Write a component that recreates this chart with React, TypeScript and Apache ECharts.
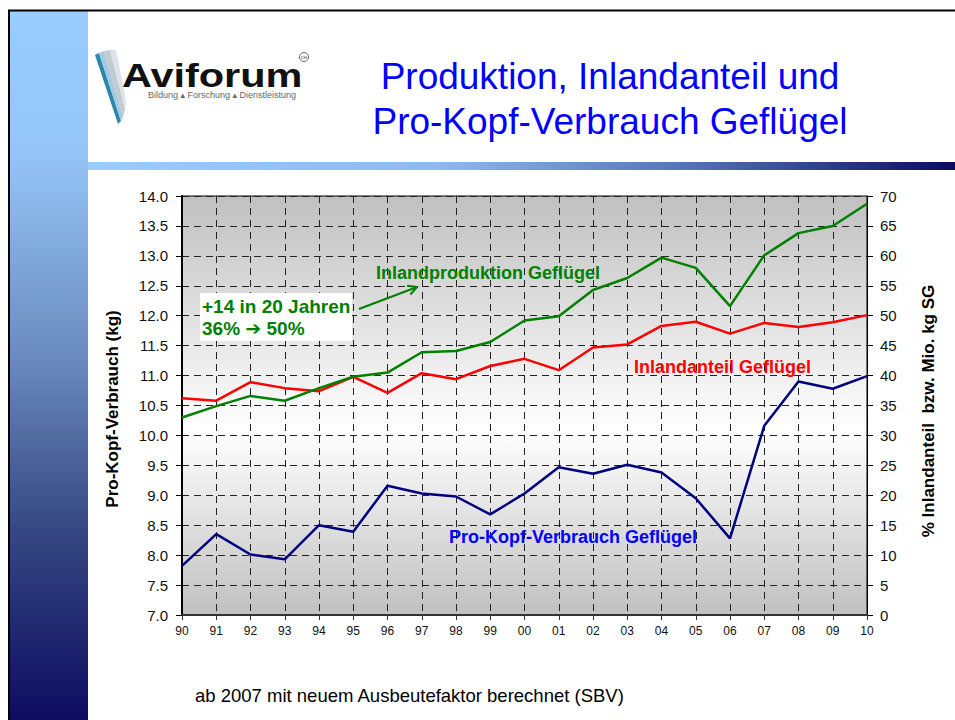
import React, { useEffect, useRef } from "react";
import * as echarts from "echarts";

const years = ["90", "91", "92", "93", "94", "95", "96", "97", "98", "99", "00", "01", "02", "03", "04", "05", "06", "07", "08", "09", "10"];
const proKopfVerbrauch = [7.82, 8.35, 8.01, 7.93, 8.5, 8.39, 9.16, 9.03, 8.98, 8.68, 9.03, 9.47, 9.36, 9.51, 9.38, 8.95, 8.28, 10.16, 10.9, 10.78, 10.99];
const inlandanteil = [36.2, 35.8, 38.9, 37.9, 37.4, 39.8, 37.1, 40.4, 39.4, 41.6, 42.8, 40.9, 44.7, 45.2, 48.3, 49.0, 47.0, 48.8, 48.1, 48.9, 50.1];
const inlandproduktion = [33.0, 34.9, 36.6, 35.8, 37.9, 39.8, 40.5, 43.9, 44.1, 45.6, 49.2, 49.9, 54.3, 56.3, 59.7, 58.0, 51.6, 60.1, 63.8, 65.0, 68.7];

const titleLines = ["Produktion, Inlandanteil und", "Pro-Kopf-Verbrauch Geflügel"];
const leftAxisName = "Pro-Kopf-Verbrauch (kg)";
const rightAxisName = "% Inlandanteil  bzw. Mio. kg SG";
const noteLines = ["+14 in 20 Jahren", "36% \u2794 50%"];
const footer = "ab 2007 mit neuem Ausbeutefaktor berechnet (SBV)";

const FONT = '"Liberation Sans", Arial, Helvetica, "DejaVu Sans", sans-serif';
const GREEN = "#008000";
const RED = "#FF0000";
const NAVY = "#000080";

export default function App() {
  const ref = useRef<HTMLDivElement>(null);

  useEffect(() => {
    if (!ref.current) return;
    const chart = echarts.init(ref.current, undefined, { renderer: "svg" });

    const graphic: any[] = [
      // left bar
      {
        type: "rect",
        z: -10,
        shape: { x: 10, y: 11, width: 78, height: 709 },
        style: {
          fill: new echarts.graphic.LinearGradient(0, 0, 0, 1, [
            { offset: 0, color: "#99CCFF" },
            { offset: 0.2, color: "#94C5F6" },
            { offset: 0.48, color: "#6C8DC0" },
            { offset: 0.73, color: "#364882" },
            { offset: 1, color: "#0D0C60" },
          ]),
        },
        silent: true,
      },
      // horizontal band
      {
        type: "rect",
        z: -10,
        shape: { x: 88, y: 162, width: 867, height: 8 },
        style: {
          fill: new echarts.graphic.LinearGradient(0, 0, 1, 0, [
            { offset: 0, color: "#99CCFF" },
            { offset: 0.4, color: "#8DBBEE" },
            { offset: 0.7, color: "#5072B2" },
            { offset: 1, color: "#0C0C5C" },
          ]),
        },
        silent: true,
      },
      // frame lines
      { type: "line", z: -5, shape: { x1: 9, y1: 10, x2: 9, y2: 720 }, style: { stroke: "#000", lineWidth: 2 } },
      { type: "line", z: -5, shape: { x1: 8, y1: 10.5, x2: 955, y2: 10.5 }, style: { stroke: "#000", lineWidth: 2 } },
      // logo stripes
      { type: "polygon", shape: { points: [[95, 55], [99, 53], [121, 121], [118, 124]] }, style: { fill: "#2E86AB" } },
      { type: "polygon", shape: { points: [[99, 53], [104, 51], [123, 117], [121, 121]] }, style: { fill: "#A4C9E0" } },
      { type: "polygon", shape: { points: [[104, 51], [110, 50], [125, 109], [123, 117]] }, style: { fill: "#C3CAD2" } },
      { type: "polygon", shape: { points: [[110, 50], [116, 50], [126, 100], [125, 109]] }, style: { fill: "#DDE3E8" } },
      {
        type: "text",
        x: 122,
        y: 75.5,
        scaleX: 1.22,
        style: { text: "Aviforum", font: `bold 34px ${FONT}`, fill: "#111", align: "left", verticalAlign: "middle" },
      },
      { type: "circle", shape: { cx: 304, cy: 57, r: 4.5 }, style: { fill: "none", stroke: "#666", lineWidth: 1 } },
      { type: "text", x: 304, y: 57, style: { text: "CH", font: `bold 4px ${FONT}`, fill: "#666", align: "center", verticalAlign: "middle" } },
      {
        type: "text",
        x: 148,
        y: 95,
        style: { text: "Bildung \u25B4 Forschung \u25B4 Dienstleistung", font: `9px ${FONT}`, fill: "#666", align: "left", verticalAlign: "middle" },
      },
      // title
      { type: "text", x: 610, y: 76.5, style: { text: titleLines[0], font: `37px ${FONT}`, fill: "#0000FF", align: "center", verticalAlign: "middle" } },
      { type: "text", x: 610, y: 121.5, style: { text: titleLines[1], font: `37px ${FONT}`, fill: "#0000FF", align: "center", verticalAlign: "middle" } },
      // axis names
      {
        type: "text",
        x: 112,
        y: 409,
        rotation: Math.PI / 2,
        style: { text: leftAxisName, font: `bold 17px ${FONT}`, fill: "#000", align: "center", verticalAlign: "middle" },
      },
      {
        type: "text",
        x: 928,
        y: 411,
        rotation: Math.PI / 2,
        style: { text: rightAxisName, font: `bold 17px ${FONT}`, fill: "#000", align: "center", verticalAlign: "middle" },
      },
      // annotations
      {
        type: "text",
        z: 100,
        x: 376,
        y: 273,
        style: { text: "Inlandproduktion Geflügel", font: `bold 18px ${FONT}`, fill: GREEN, align: "left", verticalAlign: "middle" },
      },
      { type: "rect", z: 100, shape: { x: 200, y: 293, width: 152, height: 48 }, style: { fill: "#fff" } },
      { type: "text", z: 101, x: 202, y: 306, style: { text: noteLines[0], font: `bold 19px ${FONT}`, fill: GREEN, align: "left", verticalAlign: "middle" } },
      { type: "text", z: 101, x: 202, y: 328, style: { text: noteLines[1], font: `bold 19px ${FONT}`, fill: GREEN, align: "left", verticalAlign: "middle" } },
      { type: "line", z: 100, shape: { x1: 359, y1: 309, x2: 417, y2: 287 }, style: { stroke: GREEN, lineWidth: 2 } },
      { type: "polyline", z: 100, shape: { points: [[407, 285.7], [417, 287], [410.4, 294.5]] }, style: { stroke: GREEN, lineWidth: 2, fill: "none" } },
      {
        type: "text",
        z: 100,
        x: 634,
        y: 366.5,
        style: { text: "Inlandanteil Geflügel", font: `bold 18px ${FONT}`, fill: RED, align: "left", verticalAlign: "middle" },
      },
      {
        type: "text",
        z: 100,
        x: 449,
        y: 536.5,
        style: { text: "Pro-Kopf-Verbrauch Geflügel", font: `bold 18px ${FONT}`, fill: "#0000FF", align: "left", verticalAlign: "middle" },
      },
      // footer
      { type: "text", x: 195, y: 695, style: { text: footer, font: `18.5px ${FONT}`, fill: "#000", align: "left", verticalAlign: "middle" } },
    ];

    const dashed = { color: "#222", width: 1, type: [7, 5] as any };

    chart.setOption({
      animation: false,
      backgroundColor: "#ffffff",
      textStyle: { fontFamily: FONT },
      grid: {
        left: 182,
        right: 88,
        top: 196,
        bottom: 105,
        show: true,
        borderColor: "#000",
        borderWidth: 1,
        backgroundColor: new echarts.graphic.LinearGradient(0, 0, 0, 1, [
          { offset: 0, color: "#C0C0C0" },
          { offset: 0.56, color: "#FFFFFF" },
          { offset: 1, color: "#C0C0C0" },
        ]),
      },
      xAxis: {
        type: "category",
        data: years,
        boundaryGap: false,
        axisLine: { show: true, lineStyle: { color: "#333", width: 2 } },
        axisTick: { show: true, length: 5, lineStyle: { color: "#333" } },
        axisLabel: { fontSize: 12, color: "#111", margin: 10, interval: 0, fontFamily: FONT },
        splitLine: { show: true, interval: 0, lineStyle: dashed },
      },
      yAxis: [
        {
          type: "value",
          min: 7,
          max: 14,
          interval: 0.5,
          position: "left",
          axisLine: { show: true, lineStyle: { color: "#000", width: 2 } },
          axisTick: { show: true, length: 6, lineStyle: { color: "#000" } },
          axisLabel: { fontSize: 15, color: "#111", margin: 14, fontFamily: FONT, formatter: (v: number) => v.toFixed(1) },
          splitLine: { show: true, lineStyle: dashed },
        },
        {
          type: "value",
          min: 0,
          max: 70,
          interval: 5,
          position: "right",
          axisLine: { show: true, lineStyle: { color: "#000", width: 1 } },
          axisTick: { show: true, length: 6, lineStyle: { color: "#000" } },
          axisLabel: { fontSize: 15, color: "#111", margin: 13, fontFamily: FONT },
          splitLine: { show: false },
        },
      ],
      series: [
        {
          name: "Inlandproduktion Geflügel",
          type: "line",
          yAxisIndex: 1,
          data: inlandproduktion,
          symbol: "none",
          lineStyle: { color: GREEN, width: 2.5 },
          z: 3,
        },
        {
          name: "Inlandanteil Geflügel",
          type: "line",
          yAxisIndex: 1,
          data: inlandanteil,
          symbol: "none",
          lineStyle: { color: RED, width: 2.5 },
          z: 2,
        },
        {
          name: "Pro-Kopf-Verbrauch Geflügel",
          type: "line",
          yAxisIndex: 0,
          data: proKopfVerbrauch,
          symbol: "none",
          lineStyle: { color: NAVY, width: 2.5 },
          z: 2,
        },
      ],
      graphic,
    });

    return () => chart.dispose();
  }, []);

  return <div ref={ref} style={{ position: "absolute", left: 0, top: 0, width: 955, height: 720 }} />;
}
